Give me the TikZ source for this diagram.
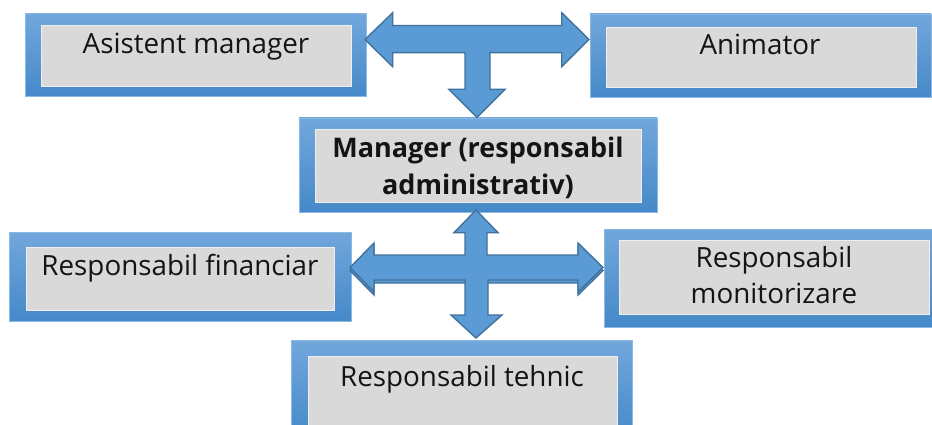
\documentclass[tikz,border=0pt]{standalone}
\usepackage{fontspec}
\setmainfont{Open Sans}
\definecolor{boxtop}{RGB}{114,167,220}
\definecolor{boxbot}{RGB}{69,137,201}
\definecolor{boxedge}{RGB}{140,185,228}
\definecolor{innergrey}{RGB}{217,217,217}
\definecolor{arrfill}{RGB}{91,155,213}
\definecolor{arredge}{RGB}{65,113,156}
\begin{document}
\begin{tikzpicture}[x=1pt,y=-1pt,
  outerbox/.style={rectangle, inner sep=0pt, draw=boxedge, line width=0.6pt, top color=boxtop, bottom color=boxbot},
  innerbox/.style={rectangle, inner sep=0pt, fill=innergrey, draw=white!55!innergrey, line width=0.6pt},
  lbl/.style={font=\fontsize{27.8}{36.5}\selectfont, inner sep=0pt, text=black!92},
  mlbl/.style={font=\bfseries\fontsize{27}{36.5}\selectfont, inner sep=0pt, align=center, text=black!92},
  blockarrow/.style={fill=arrfill, draw=arredge, line width=1.4pt, line join=miter}]
\useasboundingbox (0,0) rectangle (932,425);
\clip (0,0) rectangle (932,425);
\fill[white] (0,0) rectangle (932,425);
% boxes
\node[outerbox, minimum width=341pt, minimum height=83.4pt] (asistO) at (196.2,55) {};
\node[innerbox, minimum width=310pt, minimum height=61pt] (asistI) at (196,55.5) {};
\node[lbl, anchor=base] (asist) at (196,53.3) {Asistent manager};

\node[outerbox, minimum width=341pt, minimum height=83pt] (animO) at (760.5,55.5) {};
\node[innerbox, minimum width=310pt, minimum height=60pt] (animI) at (761,57) {};
\node[lbl, anchor=base] (anim) at (760,55) {Animator};

\node[outerbox, minimum width=358pt, minimum height=94pt] (mgrO) at (478,165) {};
\node[innerbox, minimum width=326pt, minimum height=73pt] (mgrI) at (478,165.5) {};
\node[mlbl] (mgr) at (478,168) {Manager (responsabil\\administrativ)};

\node[outerbox, minimum width=342pt, minimum height=89pt] (finO) at (180,276.5) {};
\node[innerbox, minimum width=308pt, minimum height=63pt] (finI) at (180,278.5) {};
\node[lbl, anchor=base] (fin) at (180,275) {Responsabil financiar};

\node[outerbox, minimum width=340pt, minimum height=98pt] (monO) at (774,278) {};
\node[innerbox, minimum width=310pt, minimum height=74pt] (monI) at (774,277) {};
\node[lbl, align=center] (mon) at (774,275) {Responsabil\\monitorizare};

\node[outerbox, minimum width=341pt, minimum height=100pt] (tehO) at (462.2,390) {};
\node[innerbox, minimum width=309pt, minimum height=71.3pt] (tehI) at (462.5,392.3) {};
\node[lbl, anchor=base] (teh) at (462,386.7) {Responsabil tehnic};

% T-shaped block arrow (Asistent manager <-> Animator, down to Manager)
\draw[blockarrow] (365,39.5) -- (392.7,12.7) -- (392.7,25.5) -- (561.7,25.5) -- (561.7,12.7)
  -- (589,39.5) -- (561.7,66.7) -- (561.7,52.7) -- (490,52.7) -- (490,89.3) -- (505,89.3)
  -- (477,117.3) -- (449,89.3) -- (465,89.3) -- (465,52.7) -- (392.7,52.7) -- (392.7,66.7) -- cycle;

% horizontal double arrow, slightly offset copy behind the cross
\begin{scope}[yshift=-3pt]
\draw[blockarrow] (350,267.5) -- (374,243) -- (374,255) -- (578,255) -- (578,243)
  -- (603,267.5) -- (578,292) -- (578,280) -- (374,280) -- (374,292) -- cycle;
\end{scope}
% cross-shaped block arrow (Manager, Financiar, Monitorizare, Tehnic)
\draw[blockarrow] (476,210) -- (498,232.7) -- (487,232.7) -- (487,255) -- (578,255) -- (578,243)
  -- (603,267.5) -- (578,292) -- (578,280) -- (488,280) -- (488,315) -- (502,315) -- (476,338)
  -- (451,315) -- (465,315) -- (465,280) -- (374,280) -- (374,292) -- (350,267.5) -- (374,243)
  -- (374,255) -- (465,255) -- (465,232.7) -- (454,232.7) -- cycle;
\end{tikzpicture}
\end{document}
